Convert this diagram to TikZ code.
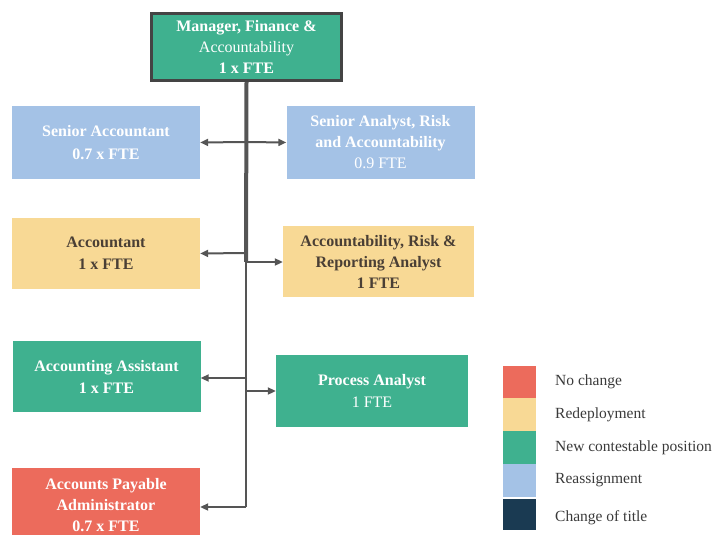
\documentclass[tikz,border=0pt]{standalone}
\usepackage{fontspec}
\setmainfont{Liberation Serif}
\usetikzlibrary{arrows.meta}
\definecolor{cRed}{HTML}{EC6B5C}
\definecolor{cYellow}{HTML}{F8D995}
\definecolor{cGreen}{HTML}{3FB18F}
\definecolor{cBlue}{HTML}{A4C2E6}
\definecolor{cNavy}{HTML}{1A3A52}
\definecolor{cLine}{HTML}{555555}
\definecolor{cDarkText}{HTML}{4A3F35}
\definecolor{cLegText}{HTML}{3A3A3A}
\tikzset{
  posbox/.style={minimum width=188pt, inner sep=0pt, align=center, text=white,
    font={\fontsize{16}{21}\selectfont\bfseries}},
  redbox/.style={posbox, fill=cRed},
  yellowbox/.style={posbox, fill=cYellow, text=cDarkText},
  greenbox/.style={posbox, fill=cGreen},
  bluebox/.style={posbox, fill=cBlue},
  trunk/.style={draw=cLine, line width=4pt},
  thintrunk/.style={draw=cLine, line width=2pt},
  arr/.style={draw=cLine, line width=2pt, -{Triangle[length=8pt,width=7pt]}},
  swatch/.style={minimum width=33pt, minimum height=33pt, inner sep=0pt},
  legtext/.style={anchor=west, inner sep=0pt, text=cLegText,
    font={\fontsize{15.5}{18}\selectfont}}
}
\begin{document}
\begin{tikzpicture}[x=1pt,y=-1pt]
\useasboundingbox (0,0) rectangle (712,535);

% manager
\node[posbox, minimum width=190pt, minimum height=67pt, fill=cGreen, draw=cLine!80!black, line width=3pt]
  (mgr) at (246.5,47) {Manager, Finance \&\\\mdseries Accountability\\1 x FTE};

% left column
\node[bluebox, minimum height=73pt] (sacc) at (106,142.5) {Senior Accountant\\[2pt]0.7 x FTE};
\node[yellowbox, minimum height=71pt] (acc) at (106,253.5) {Accountant\\[1pt]1 x FTE};
\node[greenbox, minimum height=71pt] (aass) at (106.5,376.5) {Accounting Assistant\\[1pt]1 x FTE};
\node[redbox, minimum height=74pt] (apa) at (106,505) {Accounts Payable\\Administrator\\0.7 x FTE};

% right column
\node[bluebox, minimum height=73pt] (sana) at (380.5,142.5)
  {Senior Analyst, Risk\\and Accountability\\\mdseries 0.9 FTE};
\node[yellowbox, minimum width=191pt, minimum height=71pt] (arr) at (378.5,261.5)
  {Accountability, Risk \&\\Reporting Analyst\\1 FTE};
\node[greenbox, minimum width=192pt, minimum height=72pt] (pa) at (372,391)
  {Process Analyst\\[1pt]\mdseries 1 FTE};

% reporting lines
\coordinate (j1) at (246,262);
\coordinate (jend) at (246,507);
\draw[trunk] (mgr.south) -- (j1);
\draw[thintrunk] (j1) -- (jend);
\draw[arr] (246,142) -- (sacc.east);
\draw[arr] (246,142) -- (sana.west);
\draw[arr] (246,253) -- (acc.east);
\draw[arr] (j1) -- (arr.west |- j1);
\draw[arr] (247,378) -- (aass.east |- 0,378);
\draw[arr] (247,391) -- (pa.west);
\draw[arr] (jend) -- (apa.east |- jend);

% legend
\node[swatch, fill=cRed] (l1) at (519.5,382) {};
\node[swatch, fill=cYellow] (l2) at (519.5,414.5) {};
\node[swatch, fill=cGreen] (l3) at (519.5,447.5) {};
\node[swatch, fill=cBlue] (l4) at (519.5,480.5) {};
\node[swatch, minimum height=31pt, fill=cNavy] (l5) at (519.5,514.5) {};
\node[legtext] at (555,382) {No change};
\node[legtext] at (555,414.5) {Redeployment};
\node[legtext] at (555,447.5) {New contestable position};
\node[legtext] at (555,480.5) {Reassignment};
\node[legtext] at (555,518) {Change of title};
\end{tikzpicture}
\end{document}
